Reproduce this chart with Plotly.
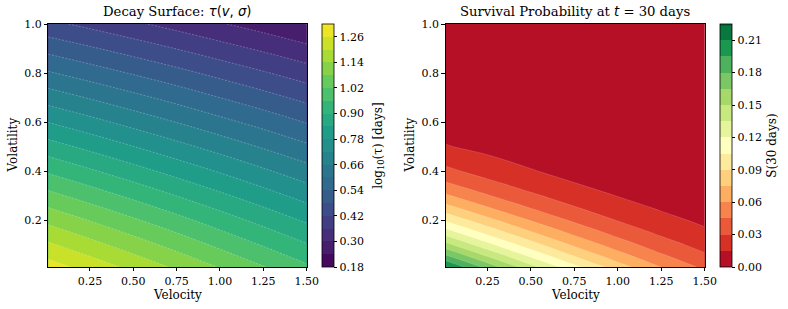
import plotly.graph_objects as go

# ---------------- data ----------------
velocity = [0.01, 0.25, 0.5, 0.75, 1.0, 1.25, 1.5]

volatility_tau = [0.01, 0.2, 0.4, 0.6, 0.8, 1.0]
log10_tau = [
    [1.287, 1.236, 1.183, 1.130, 1.076, 1.023, 0.970],
    [1.125, 1.078, 1.029, 0.980, 0.930, 0.881, 0.832],
    [0.952, 0.909, 0.864, 0.819, 0.775, 0.730, 0.685],
    [0.779, 0.740, 0.699, 0.659, 0.618, 0.578, 0.537],
    [0.606, 0.571, 0.535, 0.499, 0.462, 0.426, 0.390],
    [0.435, 0.404, 0.371, 0.338, 0.305, 0.273, 0.239],
]

volatility_surv = [0.01, 0.05, 0.1, 0.15, 0.2, 0.25, 0.3, 0.35, 0.4, 0.5, 0.6, 0.8, 1.0]
survival_30d = [
    [0.2111, 0.1747, 0.1398, 0.1089, 0.0821, 0.0597, 0.0417],
    [0.1855, 0.1516, 0.1197, 0.0917, 0.0680, 0.0486, 0.0332],
    [0.1554, 0.1249, 0.0968, 0.0727, 0.0527, 0.0367, 0.0245],
    [0.1278, 0.1009, 0.0766, 0.0563, 0.0399, 0.0271, 0.0176],
    [0.1030, 0.0798, 0.0593, 0.0425, 0.0294, 0.0194, 0.0122],
    [0.0811, 0.0615, 0.0447, 0.0313, 0.0210, 0.0135, 0.0082],
    [0.0623, 0.0462, 0.0327, 0.0223, 0.0146, 0.0091, 0.0054],
    [0.0466, 0.0337, 0.0233, 0.0154, 0.0098, 0.0059, 0.0034],
    [0.0337, 0.0239, 0.0160, 0.0103, 0.0063, 0.0037, 0.0020],
    [0.0160, 0.0107, 0.0067, 0.0040, 0.0023, 0.0012, 0.0006],
    [0.0064, 0.0040, 0.0024, 0.0013, 0.0007, 0.0003, 0.0002],
    [0.0005, 0.0003, 0.0001, 0.0001, 0.00003, 0.00001, 0.000004],
    [0.00001, 0.000006, 0.000003, 0.000002, 0.000001, 0.000001, 0.000001],
]

tau_levels = (0.18, 1.32, 0.06)
surv_levels = (0.0, 0.225, 0.015)
tau_ticks = [0.18, 0.30, 0.42, 0.54, 0.66, 0.78, 0.90, 1.02, 1.14, 1.26]
surv_ticks = [0.00, 0.03, 0.06, 0.09, 0.12, 0.15, 0.18, 0.21]
x_ticks = [0.25, 0.5, 0.75, 1.0, 1.25, 1.5]
y_ticks = [0.2, 0.4, 0.6, 0.8, 1.0]

# ---------------- layout geometry ----------------
W, H = 788, 309
FONT = "DejaVu Serif"
ax1 = [48.3 / W, 306.7 / W]
ax2 = [445.7 / W, 704.7 / W]
ay = [42 / H, 285 / H]
ymid = (ay[0] + ay[1]) / 2

def cbar(xpx, ticks):
    return dict(
        x=xpx / W, xanchor="left", xpad=0, ypad=0,
        y=ymid, yanchor="middle", len=243, lenmode="pixels",
        thickness=12, outlinewidth=0.8, outlinecolor="#000",
        tickvals=ticks, ticktext=[f"{t:.2f}" for t in ticks],
        ticks="outside", ticklen=3.5, tickwidth=0.8, tickcolor="#000",
        tickfont=dict(family=FONT, size=11, color="#000"),
    )

fig = go.Figure()

fig.add_trace(go.Contour(
    x=velocity, y=volatility_tau, z=log10_tau,
    colorscale="Viridis", zmin=tau_levels[0], zmax=tau_levels[1],
    autocontour=False,
    contours=dict(start=tau_levels[0], end=tau_levels[1], size=tau_levels[2],
                  coloring="fill", showlines=False),
    line=dict(width=0),
    colorbar=cbar(322, tau_ticks),
    hoverinfo="skip", xaxis="x", yaxis="y",
))
fig.add_trace(go.Contour(
    x=velocity, y=volatility_tau, z=log10_tau,
    autocontour=False,
    contours=dict(start=tau_levels[0] + tau_levels[2], end=tau_levels[1] - tau_levels[2],
                  size=tau_levels[2], coloring="none"),
    line=dict(color="rgba(255,255,255,0.45)", width=0.6, dash="2px,1.5px"),
    showscale=False, hoverinfo="skip", xaxis="x", yaxis="y",
))

fig.add_trace(go.Contour(
    x=velocity, y=volatility_surv, z=survival_30d,
    colorscale="RdYlGn", zmin=surv_levels[0], zmax=surv_levels[1],
    autocontour=False,
    contours=dict(start=surv_levels[0], end=surv_levels[1], size=surv_levels[2],
                  coloring="fill", showlines=False),
    line=dict(width=0),
    colorbar=cbar(720, surv_ticks),
    hoverinfo="skip", xaxis="x2", yaxis="y2",
))
fig.add_trace(go.Contour(
    x=velocity, y=volatility_surv, z=survival_30d,
    autocontour=False,
    contours=dict(start=surv_levels[0] + surv_levels[2], end=surv_levels[1] - surv_levels[2],
                  size=surv_levels[2], coloring="none"),
    line=dict(color="rgba(255,255,255,0.3)", width=0.5),
    showscale=False, hoverinfo="skip", xaxis="x2", yaxis="y2",
))

axis_common = dict(
    showline=True, mirror=True, linecolor="#000", linewidth=0.8,
    ticks="outside", ticklen=3.5, tickwidth=0.8, tickcolor="#000",
    showgrid=False, zeroline=False,
    tickfont=dict(family=FONT, size=11, color="#000"),
)
xa = dict(axis_common, range=[0.01, 1.5], tickvals=x_ticks,
          ticktext=[f"{t:.2f}" for t in x_ticks])
ya = dict(axis_common, range=[0.01, 1.0], tickvals=y_ticks,
          ticktext=[f"{t:.1f}" for t in y_ticks])

fig.update_layout(
    width=W, height=H, margin=dict(l=0, r=0, t=0, b=0, autoexpand=False),
    paper_bgcolor="white", plot_bgcolor="white",
    font=dict(family=FONT, size=11, color="#000"),
    xaxis=dict(xa, domain=ax1, anchor="y"),
    yaxis=dict(ya, domain=ay, anchor="x"),
    xaxis2=dict(xa, domain=ax2, anchor="y2"),
    yaxis2=dict(ya, domain=ay, anchor="x2"),
    showlegend=False,
)

math = 'font-family:DejaVu Sans'
annotations = [
    dict(text=f'Decay Surface: <span style="{math}"><i>τ</i>(<i>v</i>, <i>σ</i>)</span>',
         x=sum(ax1) / 2, y=(H - 12) / H, font=dict(size=13.2)),
    dict(text=f'Survival Probability at <span style="{math}"><i>t</i></span> = 30 days',
         x=sum(ax2) / 2, y=(H - 12) / H, font=dict(size=13.2)),
    dict(text="Velocity", x=sum(ax1) / 2, y=(H - 295) / H, font=dict(size=12)),
    dict(text="Velocity", x=sum(ax2) / 2, y=(H - 295) / H, font=dict(size=12)),
    dict(text="Volatility", x=12 / W, y=ymid, textangle=-90, font=dict(size=12)),
    dict(text="Volatility", x=409 / W, y=ymid, textangle=-90, font=dict(size=12)),
    dict(text="log<sub>10</sub>(τ) [days]", x=378.3 / W, y=ymid, textangle=-90, font=dict(size=12)),
    dict(text="S(30 days)", x=771.3 / W, y=ymid, textangle=-90, font=dict(size=12)),
]
for a in annotations:
    a.update(xref="paper", yref="paper", showarrow=False, xanchor="center", yanchor="middle")
    a["font"] = dict(family=FONT, color="#000", **a["font"])
fig.update_layout(annotations=annotations)

fig.write_html("out.html")
